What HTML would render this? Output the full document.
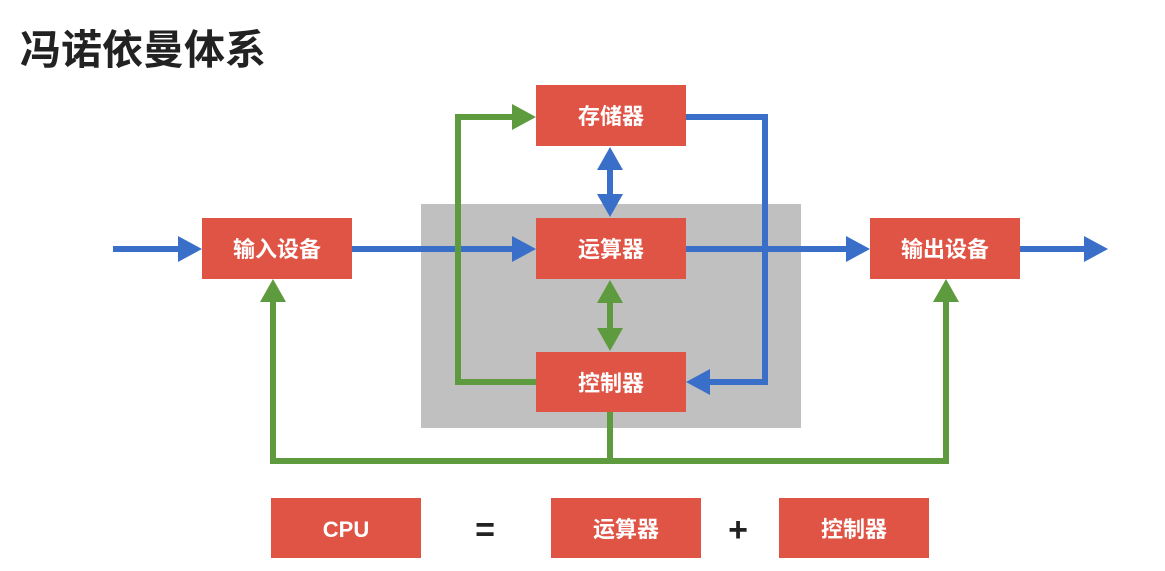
<!DOCTYPE html>
<html><head><meta charset="utf-8"><style>
html,body{margin:0;padding:0;background:#fff;width:1165px;height:571px;overflow:hidden}
svg{display:block}
text{font-family:"Liberation Sans","Noto Sans CJK SC",sans-serif;font-weight:bold}
</style></head><body>
<svg width="1165" height="571" viewBox="0 0 1165 571" xmlns="http://www.w3.org/2000/svg">
<text x="20" y="64" font-size="41" fill="#222">冯诺依曼体系</text>
<rect x="421" y="204" width="380" height="224" fill="#c0c0c0"/>
<g fill="none" stroke-width="6">
<path d="M113 249H184M352 249H518M686 249H852M1020 249H1090" stroke="#3a6fc9"/>
<path d="M686 117H765V382H704" stroke="#3a6fc9"/>
<path d="M610 166V198" stroke="#3a6fc9"/>
<path d="M536 382H458V117H518" stroke="#5e9a3e"/>
<path d="M610 299V332" stroke="#5e9a3e"/>
<path d="M610 412V461H273V297M610 461H946V297" stroke="#5e9a3e"/>
</g>
<g fill="#3a6fc9">
<polygon points="202,249 178,236 178,262"/>
<polygon points="536,249 512,236 512,262"/>
<polygon points="870,249 846,236 846,262"/>
<polygon points="1108,249 1084,236 1084,262"/>
<polygon points="686,382 710,369 710,395"/>
<polygon points="610,147 597,170 623,170"/>
<polygon points="610,217 597,194 623,194"/>
</g>
<g fill="#5e9a3e">
<polygon points="536,117 512,104 512,130"/>
<polygon points="610,280 597,303 623,303"/>
<polygon points="610,351 597,328 623,328"/>
<polygon points="273,279 260,302 286,302"/>
<polygon points="946,279 933,302 959,302"/>
</g>
<g fill="#e05446">
<rect x="536" y="85" width="150" height="61"/>
<rect x="536" y="218" width="150" height="61"/>
<rect x="536" y="352" width="150" height="60"/>
<rect x="202" y="218" width="150" height="61"/>
<rect x="870" y="218" width="150" height="61"/>
<rect x="271" y="498" width="150" height="60"/>
<rect x="551" y="498" width="150" height="60"/>
<rect x="779" y="498" width="150" height="60"/>
</g>
<g fill="#fff" font-size="22" text-anchor="middle">
<text x="611" y="124">存储器</text>
<text x="611" y="257">运算器</text>
<text x="611" y="391">控制器</text>
<text x="277" y="257">输入设备</text>
<text x="945" y="257">输出设备</text>
<text x="346" y="537">CPU</text>
<text x="626" y="537">运算器</text>
<text x="854" y="537">控制器</text>
</g>
<g fill="#222" font-size="34" text-anchor="middle">
<text x="485" y="541">=</text>
<text x="738" y="541">+</text>
</g>
</svg>
</body></html>
